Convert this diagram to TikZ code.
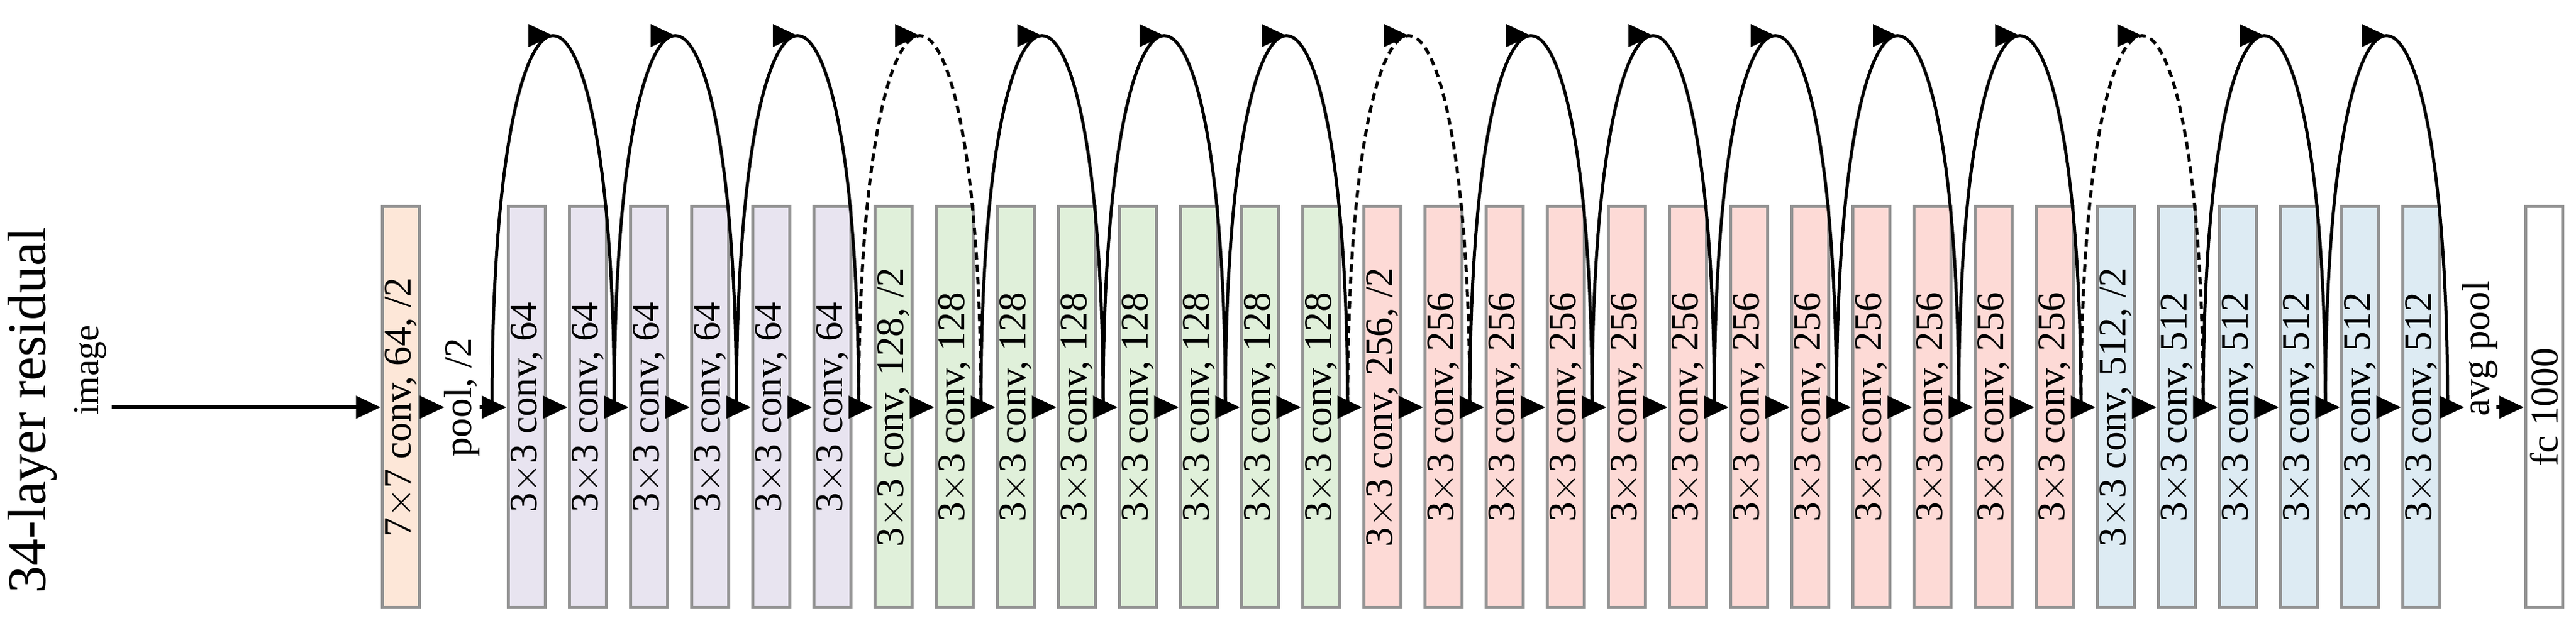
\documentclass[tikz,border=0pt]{standalone}
\usepackage{fontspec}
\setmainfont{Liberation Serif}
\usetikzlibrary{arrows.meta,decorations.markings}

\definecolor{cinit}{HTML}{FDE7D8}
\definecolor{csixfour}{HTML}{E8E4F0}
\definecolor{conetwo}{HTML}{E0F0DA}
\definecolor{ctwofive}{HTML}{FDDAD6}
\definecolor{cfiveone}{HTML}{DDEBF3}

\tikzset{
    layer/.style={draw=gray!85, line width=0.05cm, minimum width=0.6cm,
        minimum height=6.5cm, inner sep=0pt, font=\fontsize{18}{20}\selectfont},
    flow/.style={line width=0.06cm, -{Triangle[length=0.4cm, width=0.36cm]}},
    skip/.style={line width=0.05cm, postaction={decorate}, decoration={markings,
        mark=at position 0.5 with {\arrow{Triangle[length=0.4cm, width=0.36cm]}}}},
    skipdash/.style={skip, dash pattern=on 0.12cm off 0.08cm}
}

\begin{document}
\begin{tikzpicture}
    \useasboundingbox (0,0) rectangle (41.73,10.34);

    % labels on the left
    \node[font=\fontsize{25}{27}\selectfont] (title) at (0.53,3.69) {\rotatebox{90}{34-layer residual}};
    \node[font=\fontsize{17}{19}\selectfont] (img) at (1.46,4.34) {\rotatebox{90}{image}};
    \coordinate (imgout) at (1.81,3.74);

    % first layer and pooling
    \node[layer, fill=cinit] (b0) at (6.49,3.74) {\rotatebox{90}{7$\times$7 conv, 64, /2}};
    \node[font=\fontsize{18}{20}\selectfont] (pool) at (7.48,3.9) {\rotatebox{90}{pool, /2}};
    \coordinate (pl) at (7.2,3.74);
    \coordinate (pr) at (7.77,3.74);

    % residual stages
    \foreach \i in {1,...,32} {
        \pgfmathsetmacro{\xx}{8.53+0.99*(\i-1)}
        \ifnum\i<7 \def\col{csixfour}\def\ch{64}\else
        \ifnum\i<15 \def\col{conetwo}\def\ch{128}\else
        \ifnum\i<27 \def\col{ctwofive}\def\ch{256}\else
        \def\col{cfiveone}\def\ch{512}\fi\fi\fi
        \ifnum\i=7 \def\dn{, /2}\else\ifnum\i=15 \def\dn{, /2}\else
        \ifnum\i=27 \def\dn{, /2}\else\def\dn{}\fi\fi\fi
        \node[layer, fill=\col] (b\i) at (\xx,3.74) {\rotatebox{90}{3$\times$3 conv, \ch\dn}};
        \coordinate (g\i) at (\xx-0.56,3.74);
    }
    \coordinate (g33) at (39.65,3.74);

    % head
    \node[font=\fontsize{18}{20}\selectfont] (avg) at (40.17,4.69) {\rotatebox{90}{avg pool}};
    \coordinate (al) at (39.92,3.74);
    \coordinate (ar) at (40.44,3.74);
    \node[layer, fill=white] (fc) at (41.21,3.74) {\rotatebox{90}{fc 1000}};

    % main path
    \draw[flow] (imgout) -- (b0.west);
    \draw[flow] (b0.east) -- (pl);
    \draw[flow] (pr) -- (b1.west);
    \foreach \i [evaluate=\i as \j using int(\i+1)] in {1,...,31}
        \draw[flow] (b\i.east) -- (b\j.west);
    \draw[flow] (b32.east) -- (al);
    \draw[flow] (ar) -- (fc.west);

    % shortcuts
    \foreach \k in {0,...,15} {
        \pgfmathtruncatemacro{\a}{2*\k+1}
        \pgfmathtruncatemacro{\b}{2*\k+3}
        \ifnum\k=3 \def\st{skipdash}\else\ifnum\k=7 \def\st{skipdash}\else
        \ifnum\k=13 \def\st{skipdash}\else\def\st{skip}\fi\fi\fi
        \draw[\st] (g\a) .. controls +(0,8.03) and +(0,8.03) .. (g\b);
    }
\end{tikzpicture}
\end{document}
